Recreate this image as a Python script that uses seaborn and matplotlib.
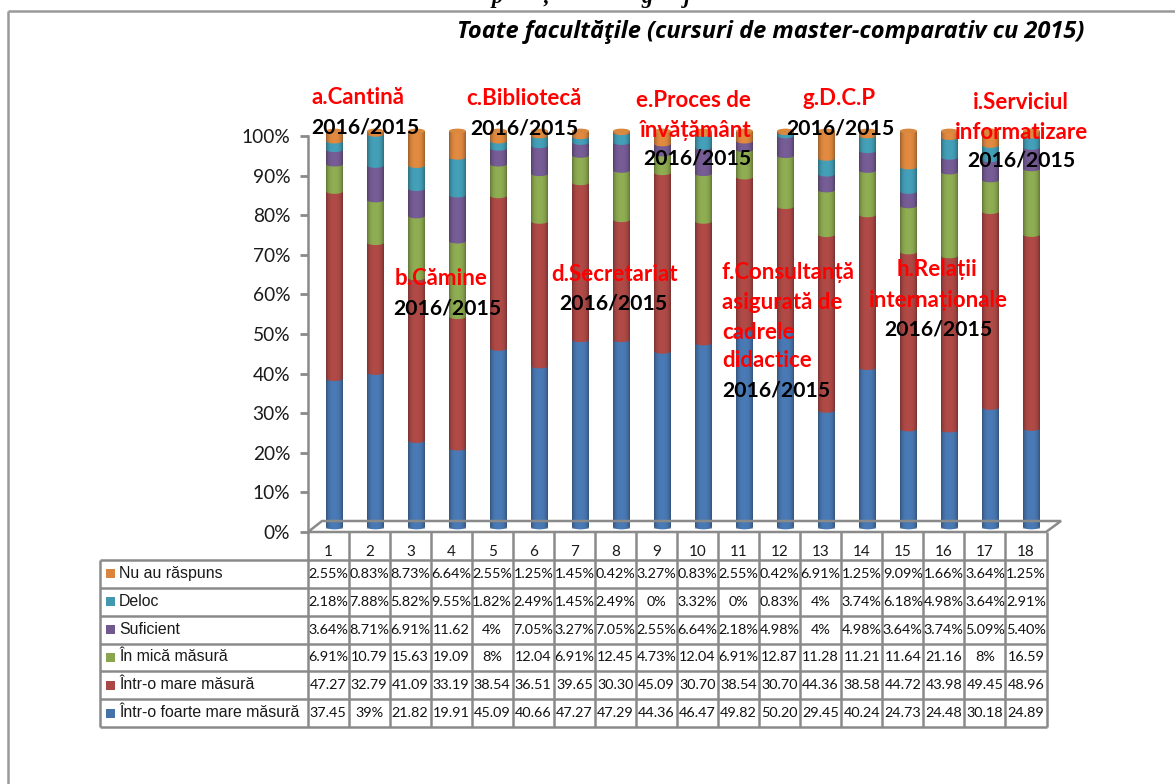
import numpy as np
import matplotlib
matplotlib.use("Agg")
import matplotlib.pyplot as plt
import matplotlib.transforms as mtransforms
from matplotlib.patches import Ellipse, Rectangle, Polygon
import seaborn as sns

# values
columns = [str(i) for i in range(1, 19)]
foarte_mare = [37.45, 39, 21.82, 19.91, 45.09, 40.66, 47.27, 47.29, 44.36, 46.47, 49.82, 50.20, 29.45, 40.24, 24.73, 24.48, 30.18, 24.89]
mare = [47.27, 32.79, 41.09, 33.19, 38.54, 36.51, 39.65, 30.30, 45.09, 30.70, 38.54, 30.70, 44.36, 38.58, 44.72, 43.98, 49.45, 48.96]
mica = [6.91, 10.79, 15.63, 19.09, 8, 12.04, 6.91, 12.45, 4.73, 12.04, 6.91, 12.87, 11.28, 11.21, 11.64, 21.16, 8, 16.59]
suficient = [3.64, 8.71, 6.91, 11.62, 4, 7.05, 3.27, 7.05, 2.55, 6.64, 2.18, 4.98, 4, 4.98, 3.64, 3.74, 5.09, 5.40]
deloc = [2.18, 7.88, 5.82, 9.55, 1.82, 2.49, 1.45, 2.49, 0, 3.32, 0, 0.83, 4, 3.74, 6.18, 4.98, 3.64, 2.91]
nu_raspuns = [2.55, 0.83, 8.73, 6.64, 2.55, 1.25, 1.45, 0.42, 3.27, 0.83, 2.55, 0.42, 6.91, 1.25, 9.09, 1.66, 3.64, 1.25]

names = ["Într-o foarte mare măsură", "Într-o mare măsură", "În mică măsură", "Suficient", "Deloc", "Nu au răspuns"]
series = [foarte_mare, mare, mica, suficient, deloc, nu_raspuns]
colors = ["#4A7AB5", "#B04A47", "#8FAD52", "#775D96", "#44A0B8", "#E28A40"]
key_colors = ["#4572A7", "#AA4643", "#89A54E", "#71588F", "#4198AF", "#DB843D"]

# red heading, black year line, centre x, y of each line
notes = [
    ("a.Cantină", "red", 358, 97), ("2016/2015", "black", 365, 127),
    ("b.Cămine", "red", 441, 278), ("2016/2015", "black", 447, 308),
    ("c.Bibliotecă", "red", 524, 98), ("2016/2015", "black", 524, 128),
    ("d.Secretariat", "red", 614, 274), ("2016/2015", "black", 613, 303),
    ("e.Proces de", "red", 693, 100), ("învățământ", "red", 696, 130), ("2016/2015", "black", 697, 158),
    ("g.D.C.P", "red", 839, 98), ("2016/2015", "black", 840, 128),
    ("h.Relații", "red", 937, 270), ("internaționale", "red", 938, 300), ("2016/2015", "black", 938, 329),
    ("i.Serviciul", "red", 1021, 102), ("informatizare", "red", 1022, 132), ("2016/2015", "black", 1021, 160),
]
left_notes = [
    ("f.Consultanță", "red", 272), ("asigurată de", "red", 302), ("cadrele", "red", 332),
    ("didactice", "red", 360), ("2016/2015", "black", 390),
]


def cell_text(v):
    # the source table cuts the % off anything with two digits before the point
    if float(v).is_integer():
        return "%d%%" % v
    if v >= 10:
        return "%.2f" % v
    return "%.2f%%" % v


W, H = 1175, 784
GRAY = "#8a8a8a"
sns.set_theme(style="white")
plt.rcParams["font.family"] = ["Lato", "DejaVu Sans"]

fig = plt.figure(figsize=(W / 100, H / 100), dpi=100, facecolor="white")
ax = fig.add_axes([308 / W, 1 - 532 / H, (1046 - 308) / W, (532 - 136) / H])
ax.patch.set_alpha(0)

# 3d look of the excel chart: bars sit a bit right of and above the axis
shift = ax.transData + mtransforms.Affine2D().translate(6, 5)

bar_w = 0.414
bottoms = np.zeros(len(columns))
for vals, c in zip(series, colors):
    sns.barplot(x=columns, y=vals, bottom=bottoms, color=c, saturation=1, width=bar_w, ax=ax, zorder=2)
    bottoms = bottoms + np.array(vals)

for p in ax.patches:
    p.set_transform(shift)
    p.set_clip_on(False)
    p.set_linewidth(0)

# curved segment edges, upper segment laps over the lower one
ell_h = 1.2
z = 3
for i in range(len(columns)):
    base = 0
    for vals, c in zip(series, colors):
        if vals[i] > 0:
            ax.add_patch(Ellipse((i, base), bar_w, ell_h, facecolor=c, edgecolor="none", linewidth=0,
                                 transform=shift, clip_on=False, zorder=z))
        base += vals[i]

# cylinder shading across each bar
grad = np.zeros((1, 64, 4))
t = np.linspace(-1, 1, 64)
grad[0, :, 3] = 0.32 * np.abs(t) ** 3
for i in range(len(columns)):
    ax.imshow(grad, extent=(i - bar_w / 2, i + bar_w / 2, -0.4, 100), aspect="auto", transform=shift,
              zorder=4, clip_on=False, interpolation="bilinear")
    ax.add_patch(Ellipse((i, 100), bar_w, ell_h, facecolor="#D9893F", edgecolor="none", linewidth=0,
                         transform=shift, clip_on=False, zorder=5))

ax.set_xlim(-0.5, 17.5)
ax.set_ylim(0, 100)
ax.set_yticks(np.arange(0, 101, 10))
ax.set_yticklabels(["%d%%" % v for v in np.arange(0, 101, 10)], fontsize=13.8, color="#1a1a1a")
ax.tick_params(axis="y", length=5.8, width=2, color=GRAY, left=True, pad=7)
ax.tick_params(axis="x", length=0, pad=9, labelsize=11, labelcolor="#1a1a1a")
for side in ["top", "right", "bottom"]:
    ax.spines[side].set_visible(False)
ax.spines["left"].set_color(GRAY)
ax.spines["left"].set_linewidth(1.8)

# everything else is placed in image pixels
ov = fig.add_axes([0, 0, 1, 1], zorder=10)
ov.set_xlim(0, W)
ov.set_ylim(H, 0)
ov.axis("off")

# page frame, only left and top fall inside the picture
ov.plot([8, 8], [H, 11], color="#999999", lw=1.8, solid_capstyle="butt")
ov.plot([8, W], [11, 11], color="#999999", lw=1.8, solid_capstyle="butt")

# chart floor
ov.add_patch(Polygon([(308, 532), (322, 521), (1061, 521), (1046, 532)], closed=True, fill=False,
                     edgecolor=GRAY, lw=1.8, zorder=0))

# data table
col_x = np.linspace(307.5, 1046.5, 19)
row_y = np.linspace(560, 727, 7)
for x in col_x:
    ov.plot([x, x], [532, 727], color=GRAY, lw=1.8, solid_capstyle="butt")
ov.plot([100, 100], [560, 727], color=GRAY, lw=1.8, solid_capstyle="butt")
for y in row_y:
    ov.plot([100, 1046.5], [y, y], color=GRAY, lw=1.8, solid_capstyle="butt")

for r, k in enumerate(range(5, -1, -1)):
    yc = (row_y[r] + row_y[r + 1]) / 2
    ov.add_patch(Rectangle((106, yc - 4.5), 9, 9, facecolor=key_colors[k], edgecolor="none"))
    ov.text(119, yc - 0.5, names[k], family=["Liberation Sans"], fontsize=11.4, ha="left", va="center", color="#1a1a1a")
    for c, v in enumerate(series[k]):
        ov.text((col_x[c] + col_x[c + 1]) / 2, yc, cell_text(v), fontsize=10.4, ha="center", va="center", color="#111111")

# titles
ov.text(771, 32, "Toate facultăţile (cursuri de master-comparativ cu 2015)", family=["Open Sans", "DejaVu Sans"],
        fontsize=17, fontweight="bold", fontstyle="italic", ha="center", va="center", color="black")
# bottoms of the heading cut off by the top of the page
for ch, x in [("p", 497), (",", 546), ("g", 647), ("j", 687)]:
    ov.text(x, 3, ch, family=["Liberation Serif"], fontsize=16, fontweight="bold", fontstyle="italic",
            ha="center", va="baseline", color="black")

for txt, c, x, y in notes:
    ov.text(x, y, txt, color=c, fontsize=16 if c == "red" else 15.2, fontweight="bold", ha="center", va="center")
for txt, c, y in left_notes:
    ov.text(722, y, txt, color=c, fontsize=16 if c == "red" else 15.2, fontweight="bold", ha="left", va="center")

fig.savefig("out.png", dpi=100)
